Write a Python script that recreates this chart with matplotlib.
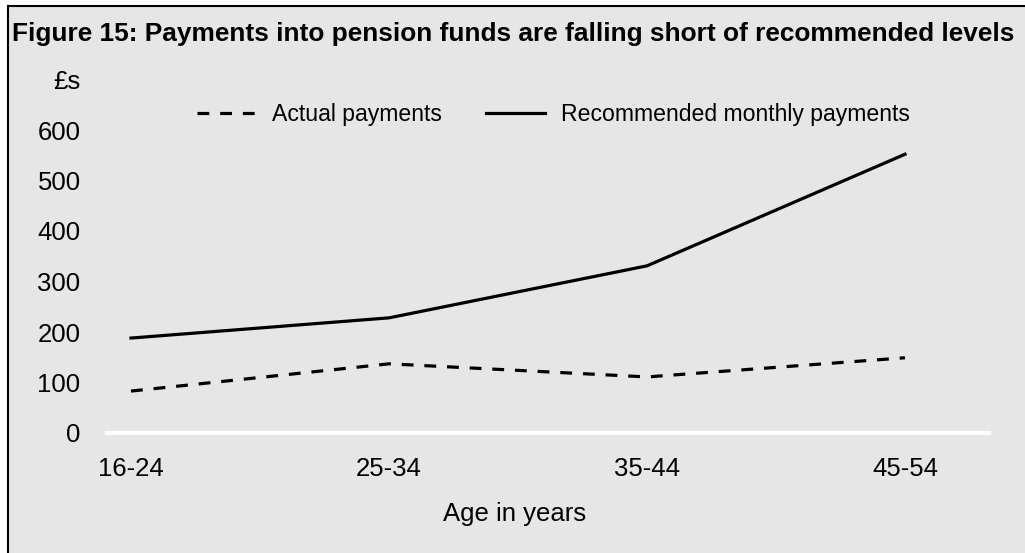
import matplotlib
matplotlib.use("Agg")
import matplotlib.pyplot as plt
from matplotlib.patches import Rectangle
from matplotlib.lines import Line2D

plt.rcParams['font.family'] = ['Liberation Sans', 'DejaVu Sans']

age_groups = ["16-24", "25-34", "35-44", "45-54"]
actual_payments = [83, 137, 111, 149]
recommended_payments = [188, 228, 331, 552]
y_ticks = [0, 100, 200, 300, 400, 500, 600]

W, H = 1025, 553
BG = "#e6e6e6"
FS = 18.5
LEG_FS = 16.6

fig = plt.figure(figsize=(W / 100, H / 100), dpi=100, facecolor="white")

def fx(px):
    return px / W

def fy(py):
    return 1 - py / H

# panel background with border on the left and top
fig.patches.append(Rectangle((fx(8), 0), 1 - fx(8), fy(6), transform=fig.transFigure,
                             facecolor=BG, edgecolor="none", zorder=-2))
fig.lines.append(Line2D([fx(8), fx(8)], [0, fy(6)], transform=fig.transFigure,
                        color="black", lw=1.5, zorder=-1))
fig.lines.append(Line2D([fx(8), 1], [fy(6), fy(6)], transform=fig.transFigure,
                        color="black", lw=1.5, zorder=-1))

left, right, top, bottom = 107, 989, 130, 433
ax = fig.add_axes([fx(left), fy(bottom), fx(right) - fx(left), fy(top) - fy(bottom)])
ax.set_zorder(2)
ax.set_facecolor("none")
for s in ax.spines.values():
    s.set_visible(False)

x = list(range(len(age_groups)))
ax.set_xlim(-24 / 258, (right - 131) / 258)
ax.set_ylim(0, 600)

ax.axhline(0, color="white", lw=3, zorder=1, clip_on=False)

ax.plot(x, actual_payments, color="black", lw=2.3, linestyle=(0, (3.7, 3.4)),
        solid_capstyle="butt", dash_capstyle="butt", zorder=3, clip_on=False,
        label="Actual payments")
ax.plot(x, recommended_payments, color="black", lw=2.3, zorder=3, clip_on=False,
        label="Recommended monthly payments")

ax.set_xticks(x)
ax.set_xticklabels(age_groups, fontsize=FS)
ax.set_yticks(y_ticks)
ax.set_yticklabels([str(v) for v in y_ticks], fontsize=FS)
ax.tick_params(axis="both", length=0)
ax.tick_params(axis="y", pad=19)
ax.tick_params(axis="x", pad=17)

fig.text(fx(515), fy(514), "Age in years", fontsize=FS, ha="center", va="center")
fig.text(fx(53), fy(82), "£s", fontsize=FS, ha="left", va="center")
fig.text(fx(12), fy(34), "Figure 15: Payments into pension funds are falling short of recommended levels",
         fontsize=18.9, fontweight="bold", ha="left", va="center")

leg = ax.legend(loc="center left", bbox_to_anchor=(fx(176), fy(115)),
                bbox_transform=fig.transFigure, ncol=2, frameon=False,
                fontsize=LEG_FS, handlelength=2.57, columnspacing=1.9, handletextpad=0.7)

fig.savefig("out.png", dpi=100, facecolor=fig.get_facecolor())
